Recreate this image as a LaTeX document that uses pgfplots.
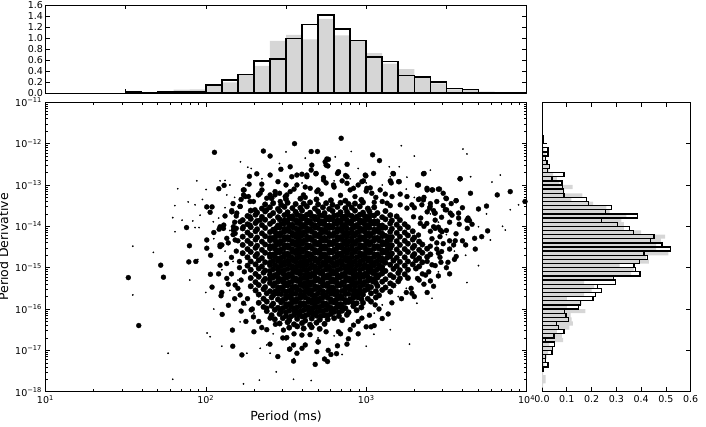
\documentclass[border=0pt]{standalone}
\usepackage{pgfplots}
\pgfplotsset{compat=1.18}
\usepackage{fontspec}
\setmainfont{DejaVu Sans}
\begin{document}
\begin{tikzpicture}[x=1pt,y=1pt]
\path[use as bounding box] (0,0) rectangle (706,426);
\pgfplotsset{
  every axis/.append style={
    scale only axis, anchor=south west,
    axis line style={line width=0.8pt, black},
    tick style={line width=0.6pt, black},
    major tick length=4.5pt, minor tick length=2.3pt,
    tick label style={font=\fontsize{9.5}{10}\selectfont},
    label style={font=\fontsize{12.5}{14}\selectfont},
    /pgf/number format/assume math mode=true,
  },
  bigdot/.style={only marks, mark=*, mark size=2.5pt, mark options={fill=black, draw=black, line width=0.3pt}},
  coredot/.style={only marks, mark=*, mark size=2.8pt, mark options={fill=black, draw=black, line width=0.3pt}},
}
% ---------------- top histogram ----------------
\begin{axis}[at={(45.4pt,332.7pt)}, width=481.2pt, height=88.3pt,
  xmin=1, xmax=4, ymin=0, ymax=1.6,
  xtick={1,1.5,2,2.5,3,3.5,4}, xticklabels={},
  ytick={0,0.2,0.4,0.6,0.8,1.0,1.2,1.4,1.6},
  yticklabel style={xshift=1pt, /pgf/number format/fixed, /pgf/number format/fixed zerofill, /pgf/number format/precision=1}]
\addplot[ybar interval, fill=black!16, draw=none] coordinates {
(1.5,0.01)(1.6,0)(1.7,0.01)(1.8,0.066)(1.9,0.072)(2.0,0.14)(2.1,0.20)(2.2,0.33)(2.3,0.495)(2.4,0.948)(2.5,1.057)(2.6,0.978)(2.7,1.347)(2.8,1.05)(2.9,0.96)(3.0,0.73)(3.1,0.537)(3.2,0.44)(3.3,0.28)(3.4,0.18)(3.5,0.07)(3.6,0.065)(3.7,0.03)(3.8,0.01)(3.9,0.005)(4.0,0.005)};
\addplot[ybar interval, fill=none, draw=black, line width=1.6pt] coordinates {
(1.5,0.02)(1.6,0)(1.7,0.02)(1.8,0.03)(1.9,0.03)(2.0,0.145)(2.1,0.24)(2.2,0.34)(2.3,0.58)(2.4,0.62)(2.5,0.99)(2.6,1.244)(2.7,1.42)(2.8,1.165)(2.9,0.96)(3.0,0.658)(3.1,0.574)(3.2,0.326)(3.3,0.296)(3.4,0.20)(3.5,0.09)(3.6,0.072)(3.7,0.005)(3.8,0.01)(3.9,0.005)(4.0,0.005)};
\end{axis}
% ---------------- right histogram ----------------
\begin{axis}[at={(542pt,34.3pt)}, width=148.7pt, height=289.4pt,
  xmin=0, xmax=0.6, ymin=-18, ymax=-11,
  xtick={0,0.1,0.2,0.3,0.4,0.5,0.6},
  xticklabel style={/pgf/number format/fixed, /pgf/number format/fixed zerofill, /pgf/number format/precision=1},
  ytick={-18,-17,-16,-15,-14,-13,-12,-11}, yticklabels={}]
\addplot[xbar interval, fill=black!16, draw=none] coordinates {
(0.005,-17.9)(0.015,-17.8)(0.015,-17.7)(0.005,-17.6)(0,-17.5)(0.01,-17.4)(0.015,-17.3)(0.02,-17.2)(0.025,-17.1)(0.04,-17.0)(0.03,-16.9)(0.085,-16.8)(0.08,-16.7)(0.06,-16.6)(0.11,-16.5)(0.125,-16.4)(0.12,-16.3)(0.115,-16.2)(0.175,-16.1)(0.10,-16.0)(0.16,-15.9)(0.10,-15.8)(0.17,-15.7)(0.20,-15.6)(0.21,-15.5)(0.17,-15.4)(0.285,-15.3)(0.36,-15.2)(0.37,-15.1)(0.313,-15.0)(0.431,-14.9)(0.42,-14.8)(0.51,-14.7)(0.46,-14.6)(0.46,-14.5)(0.48,-14.4)(0.497,-14.3)(0.40,-14.2)(0.33,-14.1)(0.33,-14.0)(0.32,-13.9)(0.34,-13.8)(0.273,-13.7)(0.26,-13.6)(0.206,-13.5)(0.118,-13.4)(0.163,-13.3)(0.09,-13.2)(0.124,-13.1)(0.07,-13.0)(0.06,-12.9)(0.045,-12.8)(0.03,-12.7)(0.03,-12.6)(0.02,-12.5)(0.01,-12.4)(0.015,-12.3)(0.01,-12.2)(0.005,-12.1)(0.005,-12.0)};
\addplot[xbar interval, fill=none, draw=black, line width=1.3pt] coordinates {
(0.007,-17.5)(0.024,-17.4)(0.013,-17.3)(0.013,-17.2)(0.04,-17.1)(0.043,-17.0)(0.05,-16.9)(0.013,-16.8)(0.048,-16.7)(0.089,-16.6)(0.067,-16.5)(0.058,-16.4)(0.108,-16.3)(0.097,-16.2)(0.091,-16.1)(0.148,-16.0)(0.156,-15.9)(0.206,-15.8)(0.215,-15.7)(0.239,-15.6)(0.223,-15.5)(0.296,-15.4)(0.288,-15.3)(0.395,-15.2)(0.378,-15.1)(0.371,-15.0)(0.394,-14.9)(0.425,-14.8)(0.411,-14.7)(0.519,-14.6)(0.484,-14.5)(0.437,-14.4)(0.452,-14.3)(0.37,-14.2)(0.352,-14.1)(0.304,-14.0)(0.239,-13.9)(0.384,-13.8)(0.257,-13.7)(0.28,-13.6)(0.188,-13.5)(0.18,-13.4)(0.089,-13.3)(0.086,-13.2)(0.083,-13.1)(0.081,-13.0)(0.04,-12.9)(0.089,-12.8)(0.022,-12.7)(0.031,-12.6)(0.02,-12.5)(0.013,-12.4)(0.024,-12.3)(0.024,-12.2)(0,-12.1)(0.007,-12.0)(0.007,-11.9)(0.007,-11.8)};
\end{axis}
% ---------------- main scatter ----------------
\begin{axis}[at={(45.4pt,34.3pt)}, width=481.2pt, height=289.4pt,
  xmin=1, xmax=4, ymin=-18, ymax=-11,
  xtick={1,2,3,4},
  xticklabels={10\textsuperscript{1},10\textsuperscript{2},10\textsuperscript{3},10\textsuperscript{4}},
  ytick={-18,-17,-16,-15,-14,-13,-12,-11},
  yticklabels={10\textsuperscript{−18},10\textsuperscript{−17},10\textsuperscript{−16},10\textsuperscript{−15},10\textsuperscript{−14},10\textsuperscript{−13},10\textsuperscript{−12},10\textsuperscript{−11}},
  minor xtick={1.30103,1.47712,1.60206,1.69897,1.77815,1.84510,1.90309,1.95424,2.30103,2.47712,2.60206,2.69897,2.77815,2.84510,2.90309,2.95424,3.30103,3.47712,3.60206,3.69897,3.77815,3.84510,3.90309,3.95424},
  minor ytick={-17.69897,-17.52288,-17.39794,-17.30103,-17.22185,-17.15490,-17.09691,-17.04576,-16.69897,-16.52288,-16.39794,-16.30103,-16.22185,-16.15490,-16.09691,-16.04576,-15.69897,-15.52288,-15.39794,-15.30103,-15.22185,-15.15490,-15.09691,-15.04576,-14.69897,-14.52288,-14.39794,-14.30103,-14.22185,-14.15490,-14.09691,-14.04576,-13.69897,-13.52288,-13.39794,-13.30103,-13.22185,-13.15490,-13.09691,-13.04576,-12.69897,-12.52288,-12.39794,-12.30103,-12.22185,-12.15490,-12.09691,-12.04576,-11.69897,-11.52288,-11.39794,-11.30103,-11.22185,-11.15490,-11.09691,-11.04576},
  xlabel={Period (ms)}, ylabel={Period Derivative}]
% large dots: dense core, rows
\addplot[coredot] coordinates {
(2.41,-13.32)(2.50,-13.34)(2.59,-13.33)(2.69,-13.35)(2.78,-13.37)(2.87,-13.38)(2.97,-13.36)
(2.37,-13.47)(2.42,-13.44)(2.47,-13.48)(2.51,-13.43)(2.56,-13.46)(2.61,-13.45)(2.65,-13.42)(2.70,-13.47)(2.75,-13.44)(2.79,-13.48)(2.84,-13.43)(2.89,-13.46)(2.93,-13.45)(2.98,-13.42)
(2.35,-13.57)(2.40,-13.54)(2.45,-13.58)(2.49,-13.53)(2.54,-13.56)(2.59,-13.55)(2.63,-13.52)(2.68,-13.57)(2.73,-13.54)(2.77,-13.58)(2.82,-13.53)(2.87,-13.56)(2.91,-13.55)(2.96,-13.52)(3.01,-13.57)(3.05,-13.54)
(2.28,-13.62)(2.32,-13.67)(2.37,-13.64)(2.42,-13.68)(2.46,-13.63)(2.51,-13.66)(2.56,-13.65)(2.60,-13.62)(2.65,-13.67)(2.70,-13.64)(2.74,-13.68)(2.79,-13.63)(2.84,-13.66)(2.88,-13.65)(2.93,-13.62)(2.98,-13.67)(3.02,-13.64)(3.07,-13.68)(3.12,-13.63)
(2.26,-13.75)(2.31,-13.72)(2.35,-13.77)(2.40,-13.74)(2.45,-13.78)(2.49,-13.73)(2.54,-13.76)(2.59,-13.75)(2.63,-13.72)(2.68,-13.77)(2.73,-13.74)(2.77,-13.78)(2.82,-13.73)(2.87,-13.76)(2.91,-13.75)(2.96,-13.72)(3.01,-13.77)(3.05,-13.74)(3.10,-13.78)(3.15,-13.73)(3.19,-13.76)
(2.23,-13.85)(2.28,-13.82)(2.32,-13.87)(2.37,-13.84)(2.42,-13.88)(2.46,-13.83)(2.51,-13.86)(2.56,-13.85)(2.60,-13.82)(2.65,-13.87)(2.70,-13.84)(2.74,-13.88)(2.79,-13.83)(2.84,-13.86)(2.88,-13.85)(2.93,-13.82)(2.98,-13.87)(3.02,-13.84)(3.07,-13.88)(3.12,-13.83)(3.16,-13.86)(3.21,-13.85)
(2.26,-13.95)(2.31,-13.92)(2.35,-13.97)(2.40,-13.94)(2.45,-13.98)(2.49,-13.93)(2.54,-13.96)(2.59,-13.95)(2.63,-13.92)(2.68,-13.97)(2.73,-13.94)(2.77,-13.98)(2.82,-13.93)(2.87,-13.96)(2.91,-13.95)(2.96,-13.92)(3.01,-13.97)(3.05,-13.94)(3.10,-13.98)(3.15,-13.93)(3.19,-13.96)(3.24,-13.95)
(2.23,-14.05)(2.28,-14.02)(2.32,-14.07)(2.37,-14.04)(2.42,-14.08)(2.46,-14.03)(2.51,-14.06)(2.56,-14.05)(2.60,-14.02)(2.65,-14.07)(2.70,-14.04)(2.74,-14.08)(2.79,-14.03)(2.84,-14.06)(2.88,-14.05)(2.93,-14.02)(2.98,-14.07)(3.02,-14.04)(3.07,-14.08)(3.12,-14.03)(3.16,-14.06)(3.21,-14.05)(3.26,-14.02)
(2.26,-14.15)(2.31,-14.12)(2.35,-14.17)(2.40,-14.14)(2.45,-14.18)(2.49,-14.13)(2.54,-14.16)(2.59,-14.15)(2.63,-14.12)(2.68,-14.17)(2.73,-14.14)(2.77,-14.18)(2.82,-14.13)(2.87,-14.16)(2.91,-14.15)(2.96,-14.12)(3.01,-14.17)(3.05,-14.14)(3.10,-14.18)(3.15,-14.13)(3.19,-14.16)(3.24,-14.15)(3.29,-14.12)
(2.23,-14.25)(2.28,-14.22)(2.32,-14.27)(2.37,-14.24)(2.42,-14.28)(2.46,-14.23)(2.51,-14.26)(2.56,-14.25)(2.60,-14.22)(2.65,-14.27)(2.70,-14.24)(2.74,-14.28)(2.79,-14.23)(2.84,-14.26)(2.88,-14.25)(2.93,-14.22)(2.98,-14.27)(3.02,-14.24)(3.07,-14.28)(3.12,-14.23)(3.16,-14.26)(3.21,-14.25)(3.26,-14.22)(3.30,-14.27)
(2.26,-14.35)(2.31,-14.32)(2.35,-14.37)(2.40,-14.34)(2.45,-14.38)(2.49,-14.33)(2.54,-14.36)(2.59,-14.35)(2.63,-14.32)(2.68,-14.37)(2.73,-14.34)(2.77,-14.38)(2.82,-14.33)(2.87,-14.36)(2.91,-14.35)(2.96,-14.32)(3.01,-14.37)(3.05,-14.34)(3.10,-14.38)(3.15,-14.33)(3.19,-14.36)(3.24,-14.35)(3.29,-14.32)(3.33,-14.37)
(2.23,-14.45)(2.28,-14.42)(2.32,-14.47)(2.37,-14.44)(2.42,-14.48)(2.46,-14.43)(2.51,-14.46)(2.56,-14.45)(2.60,-14.42)(2.65,-14.47)(2.70,-14.44)(2.74,-14.48)(2.79,-14.43)(2.84,-14.46)(2.88,-14.45)(2.93,-14.42)(2.98,-14.47)(3.02,-14.44)(3.07,-14.48)(3.12,-14.43)(3.16,-14.46)(3.21,-14.45)(3.26,-14.42)(3.30,-14.47)(3.35,-14.44)
(2.26,-14.55)(2.31,-14.52)(2.35,-14.57)(2.40,-14.54)(2.45,-14.58)(2.49,-14.53)(2.54,-14.56)(2.59,-14.55)(2.63,-14.52)(2.68,-14.57)(2.73,-14.54)(2.77,-14.58)(2.82,-14.53)(2.87,-14.56)(2.91,-14.55)(2.96,-14.52)(3.01,-14.57)(3.05,-14.54)(3.10,-14.58)(3.15,-14.53)(3.19,-14.56)(3.24,-14.55)(3.29,-14.52)(3.33,-14.57)(3.38,-14.54)
(2.23,-14.65)(2.28,-14.62)(2.32,-14.67)(2.37,-14.64)(2.42,-14.68)(2.46,-14.63)(2.51,-14.66)(2.56,-14.65)(2.60,-14.62)(2.65,-14.67)(2.70,-14.64)(2.74,-14.68)(2.79,-14.63)(2.84,-14.66)(2.88,-14.65)(2.93,-14.62)(2.98,-14.67)(3.02,-14.64)(3.07,-14.68)(3.12,-14.63)(3.16,-14.66)(3.21,-14.65)(3.26,-14.62)(3.30,-14.67)(3.35,-14.64)(3.40,-14.68)
(2.26,-14.75)(2.31,-14.72)(2.35,-14.77)(2.40,-14.74)(2.45,-14.78)(2.49,-14.73)(2.54,-14.76)(2.59,-14.75)(2.63,-14.72)(2.68,-14.77)(2.73,-14.74)(2.77,-14.78)(2.82,-14.73)(2.87,-14.76)(2.91,-14.75)(2.96,-14.72)(3.01,-14.77)(3.05,-14.74)(3.10,-14.78)(3.15,-14.73)(3.19,-14.76)(3.24,-14.75)(3.29,-14.72)(3.33,-14.77)(3.38,-14.74)
(2.28,-14.85)(2.33,-14.82)(2.37,-14.87)(2.42,-14.84)(2.47,-14.88)(2.51,-14.83)(2.56,-14.86)(2.61,-14.85)(2.65,-14.82)(2.70,-14.87)(2.75,-14.84)(2.79,-14.88)(2.84,-14.83)(2.89,-14.86)(2.93,-14.85)(2.98,-14.82)(3.03,-14.87)(3.07,-14.84)(3.12,-14.88)(3.17,-14.83)(3.21,-14.86)(3.26,-14.85)(3.31,-14.82)(3.35,-14.87)
(2.26,-14.95)(2.31,-14.92)(2.35,-14.97)(2.40,-14.94)(2.45,-14.98)(2.49,-14.93)(2.54,-14.96)(2.59,-14.95)(2.63,-14.92)(2.68,-14.97)(2.73,-14.94)(2.77,-14.98)(2.82,-14.93)(2.87,-14.96)(2.91,-14.95)(2.96,-14.92)(3.01,-14.97)(3.05,-14.94)(3.10,-14.98)(3.15,-14.93)(3.19,-14.96)(3.24,-14.95)(3.29,-14.92)(3.33,-14.97)
(2.28,-15.05)(2.33,-15.02)(2.37,-15.07)(2.42,-15.04)(2.47,-15.08)(2.51,-15.03)(2.56,-15.06)(2.61,-15.05)(2.65,-15.02)(2.70,-15.07)(2.75,-15.04)(2.79,-15.08)(2.84,-15.03)(2.89,-15.06)(2.93,-15.05)(2.98,-15.02)(3.03,-15.07)(3.07,-15.04)(3.12,-15.08)(3.17,-15.03)(3.21,-15.06)(3.26,-15.05)(3.31,-15.02)
(2.31,-15.15)(2.36,-15.12)(2.40,-15.17)(2.45,-15.14)(2.50,-15.18)(2.54,-15.13)(2.59,-15.16)(2.64,-15.15)(2.68,-15.12)(2.73,-15.17)(2.78,-15.14)(2.82,-15.18)(2.87,-15.13)(2.92,-15.16)(2.96,-15.15)(3.01,-15.12)(3.06,-15.17)(3.10,-15.14)(3.15,-15.18)(3.20,-15.13)(3.24,-15.16)
(2.28,-15.25)(2.33,-15.22)(2.37,-15.27)(2.42,-15.24)(2.47,-15.28)(2.51,-15.23)(2.56,-15.26)(2.61,-15.25)(2.65,-15.22)(2.70,-15.27)(2.75,-15.24)(2.79,-15.28)(2.84,-15.23)(2.89,-15.26)(2.93,-15.25)(2.98,-15.22)(3.03,-15.27)(3.07,-15.24)(3.12,-15.28)(3.17,-15.23)(3.21,-15.26)(3.26,-15.25)
(2.31,-15.35)(2.36,-15.32)(2.40,-15.37)(2.45,-15.34)(2.50,-15.38)(2.54,-15.33)(2.59,-15.36)(2.64,-15.35)(2.68,-15.32)(2.73,-15.37)(2.78,-15.34)(2.82,-15.38)(2.87,-15.33)(2.92,-15.36)(2.96,-15.35)(3.01,-15.32)(3.06,-15.37)(3.10,-15.34)(3.15,-15.38)(3.20,-15.33)
(2.28,-15.45)(2.33,-15.42)(2.37,-15.47)(2.42,-15.44)(2.47,-15.48)(2.51,-15.43)(2.56,-15.46)(2.61,-15.45)(2.65,-15.42)(2.70,-15.47)(2.75,-15.44)(2.79,-15.48)(2.84,-15.43)(2.89,-15.46)(2.93,-15.45)(2.98,-15.42)(3.03,-15.47)(3.07,-15.44)(3.12,-15.48)(3.17,-15.43)
(2.31,-15.55)(2.36,-15.52)(2.40,-15.57)(2.45,-15.54)(2.50,-15.58)(2.54,-15.53)(2.59,-15.56)(2.64,-15.55)(2.68,-15.52)(2.73,-15.57)(2.78,-15.54)(2.82,-15.58)(2.87,-15.53)(2.92,-15.56)(2.96,-15.55)(3.01,-15.52)(3.06,-15.57)(3.10,-15.54)(3.15,-15.58)
(2.33,-15.65)(2.38,-15.62)(2.42,-15.67)(2.47,-15.64)(2.52,-15.68)(2.56,-15.63)(2.61,-15.66)(2.66,-15.65)(2.70,-15.62)(2.75,-15.67)(2.80,-15.64)(2.84,-15.68)(2.89,-15.63)(2.94,-15.66)(2.98,-15.65)(3.03,-15.62)(3.08,-15.67)
(2.36,-15.75)(2.41,-15.72)(2.45,-15.77)(2.50,-15.74)(2.55,-15.78)(2.59,-15.73)(2.64,-15.76)(2.69,-15.75)(2.73,-15.72)(2.78,-15.77)(2.83,-15.74)(2.87,-15.78)(2.92,-15.73)(2.97,-15.76)(3.01,-15.75)(3.06,-15.72)
(2.33,-15.85)(2.38,-15.82)(2.42,-15.87)(2.47,-15.84)(2.52,-15.88)(2.56,-15.83)(2.61,-15.86)(2.66,-15.85)(2.70,-15.82)(2.75,-15.87)(2.80,-15.84)(2.84,-15.88)(2.89,-15.83)(2.94,-15.86)(2.98,-15.85)(3.03,-15.82)
(2.36,-15.95)(2.41,-15.92)(2.45,-15.97)(2.50,-15.94)(2.55,-15.98)(2.59,-15.93)(2.64,-15.96)(2.69,-15.95)(2.73,-15.92)(2.78,-15.97)(2.83,-15.94)(2.87,-15.98)(2.92,-15.93)(2.97,-15.96)
(2.38,-16.05)(2.43,-16.02)(2.47,-16.07)(2.52,-16.04)(2.57,-16.08)(2.61,-16.03)(2.66,-16.06)(2.71,-16.05)(2.75,-16.02)(2.80,-16.07)(2.85,-16.04)(2.89,-16.08)(2.94,-16.03)
(2.41,-16.15)(2.46,-16.12)(2.50,-16.17)(2.55,-16.14)(2.60,-16.18)(2.64,-16.13)(2.69,-16.16)(2.74,-16.15)(2.78,-16.12)(2.83,-16.17)(2.88,-16.14)
(2.43,-16.25)(2.48,-16.22)(2.52,-16.27)(2.57,-16.24)(2.62,-16.28)(2.66,-16.23)(2.71,-16.26)(2.76,-16.25)(2.80,-16.22)(2.85,-16.27)
(2.46,-16.35)(2.51,-16.32)(2.55,-16.37)(2.60,-16.34)(2.65,-16.38)(2.69,-16.33)(2.74,-16.36)
(2.52,-16.45)(2.57,-16.42)(2.61,-16.47)(2.66,-16.44)(2.71,-16.48)
};
% large dots: dense core, in-between positions
\addplot[coredot] coordinates {
(2.52,-13.76)(2.57,-13.72)(2.61,-13.77)(2.66,-13.75)(2.71,-13.73)(2.75,-13.78)(2.80,-13.74)(2.85,-13.76)(2.89,-13.72)(2.94,-13.77)(2.99,-13.75)(3.03,-13.73)
(2.49,-13.86)(2.54,-13.82)(2.58,-13.87)(2.63,-13.85)(2.68,-13.83)(2.72,-13.88)(2.77,-13.84)(2.82,-13.86)(2.86,-13.82)(2.91,-13.87)(2.96,-13.85)(3.00,-13.83)(3.05,-13.88)
(2.47,-13.94)(2.52,-13.96)(2.57,-13.92)(2.61,-13.97)(2.66,-13.95)(2.71,-13.93)(2.75,-13.98)(2.80,-13.94)(2.85,-13.96)(2.89,-13.92)(2.94,-13.97)(2.99,-13.95)(3.03,-13.93)(3.08,-13.98)
(2.44,-14.04)(2.49,-14.06)(2.54,-14.02)(2.58,-14.07)(2.63,-14.05)(2.68,-14.03)(2.72,-14.08)(2.77,-14.04)(2.82,-14.06)(2.86,-14.02)(2.91,-14.07)(2.96,-14.05)(3.00,-14.03)(3.05,-14.08)(3.10,-14.04)
(2.43,-14.14)(2.47,-14.16)(2.52,-14.12)(2.57,-14.17)(2.61,-14.15)(2.66,-14.13)(2.71,-14.18)(2.75,-14.14)(2.80,-14.16)(2.85,-14.12)(2.89,-14.17)(2.94,-14.15)(2.99,-14.13)(3.03,-14.18)(3.08,-14.14)
(2.40,-14.28)(2.44,-14.24)(2.49,-14.26)(2.54,-14.22)(2.58,-14.27)(2.63,-14.25)(2.68,-14.23)(2.72,-14.28)(2.77,-14.24)(2.82,-14.26)(2.86,-14.22)(2.91,-14.27)(2.96,-14.25)(3.00,-14.23)(3.05,-14.28)(3.10,-14.24)(3.14,-14.26)
(2.43,-14.34)(2.47,-14.36)(2.52,-14.32)(2.57,-14.37)(2.61,-14.35)(2.66,-14.33)(2.71,-14.38)(2.75,-14.34)(2.80,-14.36)(2.85,-14.32)(2.89,-14.37)(2.94,-14.35)(2.99,-14.33)(3.03,-14.38)(3.08,-14.34)(3.13,-14.36)
(2.40,-14.48)(2.44,-14.44)(2.49,-14.46)(2.54,-14.42)(2.58,-14.47)(2.63,-14.45)(2.68,-14.43)(2.72,-14.48)(2.77,-14.44)(2.82,-14.46)(2.86,-14.42)(2.91,-14.47)(2.96,-14.45)(3.00,-14.43)(3.05,-14.48)(3.10,-14.44)(3.14,-14.46)
(2.43,-14.54)(2.47,-14.56)(2.52,-14.52)(2.57,-14.57)(2.61,-14.55)(2.66,-14.53)(2.71,-14.58)(2.75,-14.54)(2.80,-14.56)(2.85,-14.52)(2.89,-14.57)(2.94,-14.55)(2.99,-14.53)(3.03,-14.58)(3.08,-14.54)(3.13,-14.56)
(2.40,-14.68)(2.44,-14.64)(2.49,-14.66)(2.54,-14.62)(2.58,-14.67)(2.63,-14.65)(2.68,-14.63)(2.72,-14.68)(2.77,-14.64)(2.82,-14.66)(2.86,-14.62)(2.91,-14.67)(2.96,-14.65)(3.00,-14.63)(3.05,-14.68)(3.10,-14.64)(3.14,-14.66)
(2.43,-14.74)(2.47,-14.76)(2.52,-14.72)(2.57,-14.77)(2.61,-14.75)(2.66,-14.73)(2.71,-14.78)(2.75,-14.74)(2.80,-14.76)(2.85,-14.72)(2.89,-14.77)(2.94,-14.75)(2.99,-14.73)(3.03,-14.78)(3.08,-14.74)(3.13,-14.76)
(2.40,-14.88)(2.45,-14.84)(2.49,-14.86)(2.54,-14.82)(2.59,-14.87)(2.63,-14.85)(2.68,-14.83)(2.73,-14.88)(2.77,-14.84)(2.82,-14.86)(2.87,-14.82)(2.91,-14.87)(2.96,-14.85)(3.01,-14.83)(3.05,-14.88)(3.10,-14.84)
(2.43,-14.94)(2.47,-14.96)(2.52,-14.92)(2.57,-14.97)(2.61,-14.95)(2.66,-14.93)(2.71,-14.98)(2.75,-14.94)(2.80,-14.96)(2.85,-14.92)(2.89,-14.97)(2.94,-14.95)(2.99,-14.93)(3.03,-14.98)(3.08,-14.94)
(2.40,-15.08)(2.45,-15.04)(2.49,-15.06)(2.54,-15.02)(2.59,-15.07)(2.63,-15.05)(2.68,-15.03)(2.73,-15.08)(2.77,-15.04)(2.82,-15.06)(2.87,-15.02)(2.91,-15.07)(2.96,-15.05)(3.01,-15.03)(3.05,-15.08)(3.10,-15.04)
(2.43,-15.18)(2.48,-15.14)(2.52,-15.16)(2.57,-15.12)(2.62,-15.17)(2.66,-15.15)(2.71,-15.13)(2.76,-15.18)(2.80,-15.14)(2.85,-15.16)(2.90,-15.12)(2.94,-15.17)(2.99,-15.15)(3.04,-15.13)(3.08,-15.18)
(2.40,-15.28)(2.45,-15.24)(2.49,-15.26)(2.54,-15.22)(2.59,-15.27)(2.63,-15.25)(2.68,-15.23)(2.73,-15.28)(2.77,-15.24)(2.82,-15.26)(2.87,-15.22)(2.91,-15.27)(2.96,-15.25)(3.01,-15.23)(3.05,-15.28)
(2.43,-15.38)(2.48,-15.34)(2.52,-15.36)(2.57,-15.32)(2.62,-15.37)(2.66,-15.35)(2.71,-15.33)(2.76,-15.38)(2.80,-15.34)(2.85,-15.36)(2.90,-15.32)(2.94,-15.37)(2.99,-15.35)(3.04,-15.33)
(2.45,-15.48)(2.49,-15.44)(2.54,-15.46)(2.59,-15.42)(2.63,-15.47)(2.68,-15.45)(2.73,-15.43)(2.77,-15.48)(2.82,-15.44)(2.87,-15.46)(2.91,-15.42)(2.96,-15.47)(3.01,-15.45)
(2.43,-15.58)(2.48,-15.54)(2.52,-15.56)(2.57,-15.52)(2.62,-15.57)(2.66,-15.55)(2.71,-15.53)(2.76,-15.58)(2.80,-15.54)(2.85,-15.56)(2.90,-15.52)(2.94,-15.57)(2.99,-15.55)
(2.45,-15.63)(2.50,-15.68)(2.54,-15.64)(2.59,-15.66)(2.64,-15.62)(2.68,-15.67)(2.73,-15.65)(2.78,-15.63)(2.82,-15.68)(2.87,-15.64)(2.92,-15.66)(2.96,-15.62)
(2.48,-15.78)(2.53,-15.74)(2.57,-15.76)(2.62,-15.72)(2.67,-15.77)(2.71,-15.75)(2.76,-15.73)(2.81,-15.78)(2.85,-15.74)(2.90,-15.76)(2.95,-15.72)
(2.50,-15.88)(2.54,-15.84)(2.59,-15.86)(2.64,-15.82)(2.68,-15.87)(2.73,-15.85)(2.78,-15.83)(2.82,-15.88)(2.87,-15.84)(2.92,-15.86)
(2.48,-15.98)(2.53,-15.94)(2.57,-15.96)(2.62,-15.92)(2.67,-15.97)(2.71,-15.95)(2.76,-15.93)(2.81,-15.98)(2.85,-15.94)
(2.50,-16.08)(2.55,-16.04)(2.59,-16.06)(2.64,-16.02)(2.69,-16.07)(2.73,-16.05)(2.78,-16.03)(2.83,-16.08)
(2.53,-16.18)(2.58,-16.14)(2.62,-16.16)(2.67,-16.12)(2.72,-16.17)(2.76,-16.15)
};
% large dots: outskirts
\addplot[bigdot] coordinates {
(2.844,-11.87)(2.553,-12.00)(2.054,-12.21)(2.359,-12.18)(2.657,-12.19)(2.696,-12.19)(2.401,-12.30)(3.04,-12.27)(2.755,-12.37)(3.083,-12.41)(2.881,-12.50)(2.526,-12.56)(2.468,-12.62)(2.761,-12.54)(2.318,-12.73)(2.272,-12.79)(2.401,-12.76)(2.998,-12.78)(3.357,-12.73)(3.17,-12.73)(3.585,-12.85)(2.114,-13.01)(2.081,-13.09)(2.27,-12.98)(2.349,-12.98)(2.239,-13.12)(3.32,-13.00)(3.38,-13.12)(3.41,-13.12)(3.45,-13.10)(3.50,-13.33)(3.56,-13.38)(3.817,-13.24)(3.898,-13.16)(3.99,-13.40)(3.75,-13.51)(3.70,-13.58)(3.576,-13.68)(3.635,-13.80)(3.644,-13.86)(3.757,-14.11)(3.676,-14.29)(3.60,-14.35)(3.555,-14.35)(2.006,-13.53)(2.039,-13.53)(2.027,-13.66)(2.162,-13.62)(1.88,-14.03)(2.083,-14.07)(2.112,-13.97)(1.898,-14.47)(2.235,-13.24)
(2.536,-12.80)(2.599,-12.74)(2.630,-12.76)(2.657,-12.64)(2.686,-12.73)(2.734,-12.82)(2.827,-12.68)(2.871,-12.77)(2.983,-12.90)(3.025,-13.07)(3.156,-12.95)(3.202,-12.92)(3.119,-13.22)(3.212,-13.22)(3.254,-13.28)(3.285,-13.48)(3.331,-13.34)(3.347,-13.48)(3.395,-13.56)(3.426,-13.68)(3.501,-13.60)(3.535,-13.73)(3.472,-14.13)(3.430,-14.05)(3.378,-13.93)(3.326,-14.21)
(3.466,-14.87)(3.51,-14.87)(3.561,-14.73)(3.545,-14.45)(3.40,-15.32)(3.285,-15.62)(3.41,-14.93)(3.37,-15.18)(3.32,-15.26)(3.40,-14.48)(3.47,-14.61)
(3.10,-16.23)(3.137,-16.12)(3.0,-16.43)(3.031,-16.43)(2.889,-16.72)(2.815,-17.08)(2.821,-16.89)(2.763,-17.00)(2.74,-17.21)(2.759,-17.27)(2.682,-17.34)(2.547,-17.26)(2.568,-17.07)(2.524,-16.97)(3.056,-15.90)(2.973,-16.22)(2.921,-16.39)(2.827,-16.55)(2.702,-16.79)(2.62,-16.87)(2.692,-17.03)(2.547,-16.87)(2.599,-16.63)
(1.517,-15.24)(1.719,-14.94)(1.736,-15.23)(1.582,-16.40)(1.894,-14.86)(1.938,-14.85)(2.029,-15.16)(2.039,-15.47)(2.095,-15.68)(2.102,-16.13)(2.141,-15.91)(2.166,-16.51)(2.168,-16.90)(2.225,-17.11)(2.449,-17.15)(2.349,-16.45)(2.283,-16.02)(2.434,-16.37)(2.505,-16.69)(2.522,-16.97)(2.089,-14.94)(2.131,-15.26)(2.183,-15.42)(2.214,-15.66)(2.235,-15.86)(2.297,-16.19)(2.401,-16.22)(2.464,-16.06)(2.38,-15.98)(2.484,-16.51)
(2.006,-14.53)(2.089,-14.49)(2.131,-14.29)(2.183,-14.17)(2.172,-14.01)(2.214,-13.89)(2.276,-13.97)(2.266,-13.28)(2.297,-13.40)(2.328,-13.24)(2.401,-13.24)(2.432,-13.16)(2.464,-13.40)(2.505,-13.24)(2.214,-13.52)(2.193,-13.68)
(2.18,-13.90)(2.17,-14.20)(2.19,-14.60)(2.16,-14.75)(2.21,-15.00)(2.22,-15.30)(2.20,-15.50)(2.26,-15.75)(2.29,-16.00)(2.33,-16.30)(2.38,-16.50)(2.14,-14.40)
(3.30,-13.55)(3.34,-13.80)(3.36,-14.00)(3.41,-14.30)(3.44,-14.55)(3.46,-14.75)(3.43,-14.95)(3.39,-15.10)(3.36,-15.40)(3.28,-15.50)(3.22,-15.75)(3.16,-15.85)(3.08,-16.00)(3.02,-16.15)(2.95,-16.30)(2.90,-16.50)(2.84,-16.60)(3.52,-14.55)
(2.55,-16.60)(2.65,-16.62)(2.75,-16.55)(2.48,-16.70)(2.70,-16.80)(2.60,-16.95)(2.78,-17.10)
(2.35,-13.12)(2.55,-13.10)(2.62,-13.05)(2.70,-13.12)(2.80,-13.05)(2.90,-13.12)(3.00,-13.15)(2.50,-13.00)(2.75,-12.95)(2.85,-12.90)(2.45,-12.92)(2.95,-13.00)(3.06,-13.30)(3.10,-13.40)(3.15,-13.50)
(3.44,-13.40)(3.48,-13.50)(3.53,-13.45)(3.42,-13.62)(3.47,-13.78)(3.52,-13.90)(3.58,-13.95)(3.45,-14.02)(3.50,-14.10)(3.56,-14.18)(3.63,-14.05)(3.46,-14.25)(3.52,-14.35)(3.62,-14.45)(3.48,-14.42)(3.45,-14.65)(3.55,-14.80)(3.50,-15.00)(3.45,-15.20)(3.42,-15.45)(3.52,-15.15)(3.38,-15.60)(3.30,-15.70)(3.36,-13.30)(3.40,-13.45)(3.38,-13.65)(3.43,-13.85)(3.40,-14.12)(3.44,-14.40)(3.38,-14.85)(3.35,-15.15)(3.33,-15.30)(3.25,-15.60)(3.68,-14.55)(3.72,-14.25)(3.66,-13.95)(3.60,-13.55)(3.65,-13.20)(3.48,-13.20)
(2.17,-13.45)(2.12,-13.75)(2.19,-14.05)(2.05,-14.15)(2.10,-14.45)(2.03,-14.70)(2.13,-14.90)(2.08,-15.15)(2.16,-15.15)(2.14,-15.40)(2.10,-15.60)(2.18,-15.75)(2.22,-16.05)(2.25,-16.30)(2.30,-16.55)(2.20,-14.35)(2.21,-14.85)(2.24,-15.10)(2.19,-13.75)(2.22,-13.35)
(2.95,-16.60)(3.05,-16.40)(2.40,-16.85)(2.88,-16.85)
(2.744,-12.44)(2.765,-12.38)(2.750,-12.52)(2.661,-12.52)(2.688,-12.72)(2.630,-12.80)(2.568,-12.76)(2.827,-12.69)(2.880,-12.80)(2.994,-12.76)(3.046,-12.72)(3.167,-12.72)(3.206,-12.92)(3.150,-12.90)(3.361,-12.72)(3.586,-12.85)
(3.326,-13.00)(3.379,-13.08)(3.414,-13.12)(3.457,-13.10)(3.497,-13.32)(3.561,-13.38)(3.326,-13.35)(3.357,-13.36)(3.161,-13.28)(3.13,-13.44)(3.212,-13.48)(3.254,-13.56)(3.399,-13.52)(3.43,-13.68)(3.493,-13.60)(3.524,-13.68)(3.576,-13.80)(3.628,-13.85)(3.295,-13.77)(3.337,-13.93)(3.42,-14.01)(3.462,-14.09)
(2.234,-13.12)(2.245,-13.28)(2.276,-13.40)(2.214,-13.52)(2.339,-13.20)(2.38,-13.32)(2.432,-13.24)(2.495,-13.28)(2.526,-13.16)(2.568,-13.00)(2.609,-13.24)(2.651,-13.08)(2.692,-13.16)(2.734,-12.88)(2.796,-13.00)(2.821,-12.72)(2.880,-12.96)(2.921,-13.08)(2.973,-12.92)(3.004,-13.08)(3.035,-13.20)(3.087,-13.12)
(2.089,-14.01)(2.11,-14.05)(2.172,-14.09)(2.162,-13.65)(2.276,-13.77)(2.307,-13.60)(2.38,-13.60)(2.339,-13.85)(2.234,-14.01)(2.183,-14.33)(2.006,-14.33)(2.089,-14.45)
(2.72,-13.22)(2.84,-13.25)(2.93,-13.28)(2.46,-13.20)(2.62,-13.30)(3.05,-13.42)
};
% small dots
\addplot[only marks, mark=*, mark size=0.65pt, mark options={fill=black, draw=none}] coordinates {
(2.216,-12.44)(1.825,-13.09)(1.944,-12.90)(1.807,-13.50)(1.890,-13.41)(1.933,-13.48)(1.794,-13.79)(1.852,-13.85)(1.919,-13.87)(1.808,-14.13)(1.933,-14.03)(1.958,-14.03)(1.979,-13.35)(2.002,-13.11)(2.120,-12.89)(2.089,-12.90)(2.262,-12.57)(2.283,-12.60)(2.459,-12.48)(2.318,-13.24)(2.131,-13.24)(2.047,-13.89)(1.964,-13.73)
(3.219,-12.05)(2.907,-12.19)(3.603,-12.13)(3.628,-12.25)(3.206,-12.56)(3.144,-12.56)(3.254,-12.81)(3.651,-12.80)(3.784,-12.93)(3.700,-14.01)(3.950,-13.48)(2.807,-12.32)(3.40,-12.64)(3.836,-12.76)(3.898,-13.60)(3.774,-14.33)(3.867,-14.09)
(3.628,-15.36)(3.41,-15.74)(3.316,-15.86)(3.270,-16.85)(3.048,-16.61)(2.547,-17.70)(2.657,-17.73)
(1.545,-14.48)(1.673,-14.63)(1.545,-15.66)(1.765,-17.07)(1.794,-17.70)(2.235,-17.81)(2.334,-17.72)(2.439,-17.52)(2.008,-16.58)(2.027,-16.67)(2.214,-16.31)(2.256,-17.07)(2.339,-16.95)(2.401,-17.07)(2.38,-16.87)
(2.15,-13.0)(2.18,-13.3)(2.12,-13.55)(2.08,-13.8)(2.15,-14.1)(2.05,-14.3)(2.12,-14.6)(2.17,-14.85)(2.10,-15.05)(2.2,-15.3)(2.15,-15.55)(2.25,-15.9)(2.3,-16.1)(2.35,-16.4)(2.42,-16.6)(2.5,-16.75)(2.6,-16.6)(2.7,-16.7)(2.8,-16.65)(2.9,-16.45)(2.95,-16.3)(3.05,-16.1)(3.1,-15.9)(3.2,-15.7)(3.25,-15.5)(3.35,-15.4)(3.45,-15.1)(3.5,-14.9)(3.55,-14.6)(3.5,-14.2)(3.45,-13.9)(3.4,-13.7)(3.3,-13.3)(3.25,-13.1)(3.1,-13.0)(3.0,-12.95)(2.9,-12.85)(2.8,-12.9)(2.6,-12.95)(2.45,-12.9)(2.35,-12.85)(2.25,-13.0)(2.62,-12.35)(2.95,-12.6)(3.15,-12.8)(2.5,-12.2)(3.3,-12.3)(3.75,-13.7)(3.85,-14.0)(3.62,-14.7)(3.7,-14.95)(1.95,-14.8)(1.9,-15.3)(2.0,-15.6)(2.05,-16.0)(2.1,-16.9)(2.55,-17.2)(2.85,-17.1)(3.0,-16.9)(3.15,-16.5)
};
\end{axis}
\end{tikzpicture}
\end{document}
